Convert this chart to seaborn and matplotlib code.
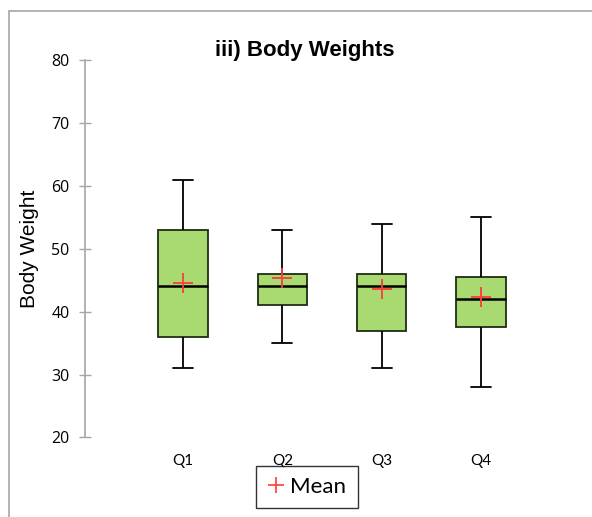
import numpy as np
import pandas as pd
import seaborn as sns
import matplotlib
matplotlib.use("Agg")
import matplotlib.pyplot as plt
from matplotlib.lines import Line2D

# ---- data ----
quarters = ["Q1", "Q2", "Q3", "Q4"]
minimum = [31, 35, 31, 28]
lower_q = [36, 41, 37, 37.5]
median = [44, 44, 44, 42]
upper_q = [53, 46, 46, 45.5]
maximum = [61, 53, 54, 55]
means = [44.5, 45.3, 43.6, 42.4]
y_ticks = [20, 30, 40, 50, 60, 70, 80]

# five-number summaries -> long table (percentiles of 5 sorted points reproduce them)
rows = []
for q, a, b, c, d, e in zip(quarters, minimum, lower_q, median, upper_q, maximum):
    for v in (a, b, c, d, e):
        rows.append({"Quarter": q, "Body Weight": v})
df = pd.DataFrame(rows)

sns.set_theme(style="white")
plt.rcParams["font.family"] = ["Liberation Sans", "DejaVu Sans"]
plt.rcParams["text.color"] = "black"
plt.rcParams["axes.labelcolor"] = "black"

W, H, DPI = 592, 517, 100
fig = plt.figure(figsize=(W / DPI, H / DPI), dpi=DPI)
ax = fig.add_axes([85 / W, 1 - 437.5 / H, (580 - 85) / W, (437.5 - 60) / H])

sns.boxplot(
    data=df, x="Quarter", y="Body Weight", order=quarters, ax=ax,
    whis=(0, 100), width=0.5, color="#a9da71", saturation=1, linecolor="black",
    linewidth=1.2, capwidths=0.2,
    boxprops=dict(edgecolor="#1f2d12", linewidth=1.3),
    medianprops=dict(color="black", linewidth=1.8),
    whiskerprops=dict(color="black", linewidth=1.3),
    capprops=dict(color="black", linewidth=1.3),
)

sns.pointplot(
    x=quarters, y=means, order=quarters, ax=ax, errorbar=None,
    markers="+", linestyle="none", color="#ff3b3b",
    markersize=14, markeredgewidth=1.3, label="Mean", zorder=5,
)

ax.set_xlim(-0.99, 4.0)
ax.set_ylim(20, 80)
ax.set_yticks(y_ticks)
ax.set_yticklabels([str(t) for t in y_ticks], fontsize=11.5, family=["Open Sans", "DejaVu Sans"], color="black")
ax.set_xticks(range(len(quarters)))
ax.set_xticklabels(quarters, fontsize=11, family=["Lato", "DejaVu Sans"], color="black")

for s in ("top", "right", "bottom"):
    ax.spines[s].set_visible(False)
ax.spines["left"].set_color("#a6a6a6")
ax.spines["left"].set_linewidth(1.2)
ax.tick_params(axis="y", direction="inout", length=8, width=1.0, color="#a6a6a6", pad=7, left=True)
ax.tick_params(axis="x", length=0, pad=12)

ax.set_xlabel("")
ax.set_ylabel("Body Weight", fontsize=15, labelpad=9, color="black")
ax.set_title("iii) Body Weights", fontsize=16, fontweight="bold", color="black",
             pad=0, x=(305 - 85) / (580 - 85), y=1.01)

handle = Line2D([], [], marker="+", linestyle="none", color="#ff3b3b", markersize=12, markeredgewidth=1.2)
leg = ax.legend(
    [handle], ["Mean"], loc="lower left",
    bbox_to_anchor=(256 / W, 1 - 508 / H), bbox_transform=fig.transFigure,
    borderaxespad=0, frameon=True, fancybox=False, edgecolor="black",
    prop={"family": ["Lato", "DejaVu Sans"], "size": 16},
    handlelength=0.8, handletextpad=0.25, borderpad=0.5,
)
leg.get_frame().set_linewidth(1.0)

# outer chart border (cut off at right and bottom like the reference)
fig.add_artist(Line2D([9 / W, 9 / W], [0, 1 - 10.5 / H], transform=fig.transFigure, color="#a6a6a6", lw=1.2))
fig.add_artist(Line2D([9 / W, 1], [1 - 10.5 / H, 1 - 10.5 / H], transform=fig.transFigure, color="#a6a6a6", lw=1.2))

fig.savefig("out.png", dpi=DPI)
